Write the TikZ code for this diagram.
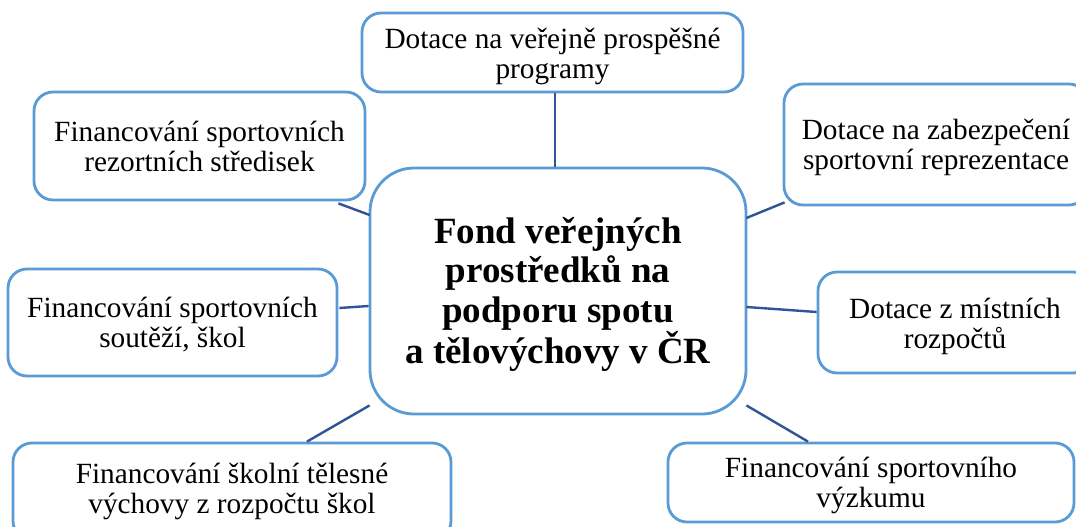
\documentclass[tikz,border=0pt]{standalone}
\usepackage{fontspec}
\setmainfont{Liberation Serif}
\usetikzlibrary{calc}
\definecolor{boxblue}{HTML}{5B9BD5}
\definecolor{linkblue}{HTML}{2F5597}
\newcommand\lowered[2]{\raisebox{-#1}[\height][\depth]{\vbox{\let\\\cr\halign{\hfil##\hfil\cr#2\crcr}}}}
\begin{document}
\begin{tikzpicture}[x=1pt,y=-1pt,
  leaf/.style={draw=boxblue, line width=2.8pt, rounded corners=19pt, fill=white,
    inner sep=0pt, font=\fontsize{29.3}{30}\selectfont},
  hub/.style={draw=boxblue, line width=2.8pt, rounded corners=44pt, fill=white,
    inner sep=0pt, font=\fontsize{37}{39.5}\selectfont\bfseries,
    minimum width=376pt, minimum height=246pt},
  link/.style={draw=linkblue, line width=2.4pt}]
\useasboundingbox (0,0) rectangle (1076,527);
\clip (0,0) rectangle (1076,527);
\fill[white] (0,0) rectangle (1076,527);

\node[hub] (c) at (558,291) {\lowered{3pt}{Fond veřejných\\prostředků na\\podporu spotu\\a tělovýchovy v ČR}};

\node[leaf, minimum width=381pt, minimum height=79pt] (t) at (552.5,52.5)
  {\lowered{4pt}{Dotace na veřejně prospěšné\\programy}};
\node[leaf, minimum width=331pt, minimum height=108pt] (tl) at (199.5,146)
  {\lowered{0.5pt}{Financování sportovních\\rezortních středisek}};
\node[leaf, minimum width=304pt, minimum height=121pt] (tr) at (936,144.5)
  {\lowered{3pt}{Dotace na zabezpečení\\sportovní reprezentace}};
\node[leaf, minimum width=329pt, minimum height=107pt] (ml) at (172.5,322.5)
  {\lowered{2pt}{Financování sportovních\\soutěží, škol}};
\node[leaf, minimum width=274pt, minimum height=101pt] (mr) at (955,322.5)
  {\lowered{3.5pt}{Dotace z místních\\rozpočtů}};
\node[leaf, minimum width=438pt, minimum height=97pt] (bl) at (232,491.5)
  {\lowered{0pt}{Financování školní tělesné\\výchovy z rozpočtu škol}};
\node[leaf, minimum width=406pt, minimum height=79pt] (br) at (871,482.5)
  {\lowered{2.5pt}{Financování sportovního\\výzkumu}};

\draw[link] ([xshift=2.5pt]t.south) -- ([xshift=-3pt]c.north);
\draw[link] ([xshift=-28pt,yshift=-2pt]tl.south east) -- ([xshift=1pt,yshift=76pt]c.west);
\draw[link] ([xshift=-1pt,yshift=73pt]c.east) -- ([xshift=2pt,yshift=4pt]tr.south west);
\draw[link] ([xshift=1pt,yshift=14.5pt]ml.east) -- ([yshift=-15pt]c.west);
\draw[link] ([xshift=-1pt,yshift=-16pt]c.east) -- ([yshift=10.5pt]mr.west);
\draw[link] ([xshift=1pt,yshift=10pt]c.south west) -- ([xshift=75pt]bl.north);
\draw[link] ([xshift=-1pt,yshift=10pt]c.south east) -- ([xshift=-63pt]br.north);
\end{tikzpicture}
\end{document}
